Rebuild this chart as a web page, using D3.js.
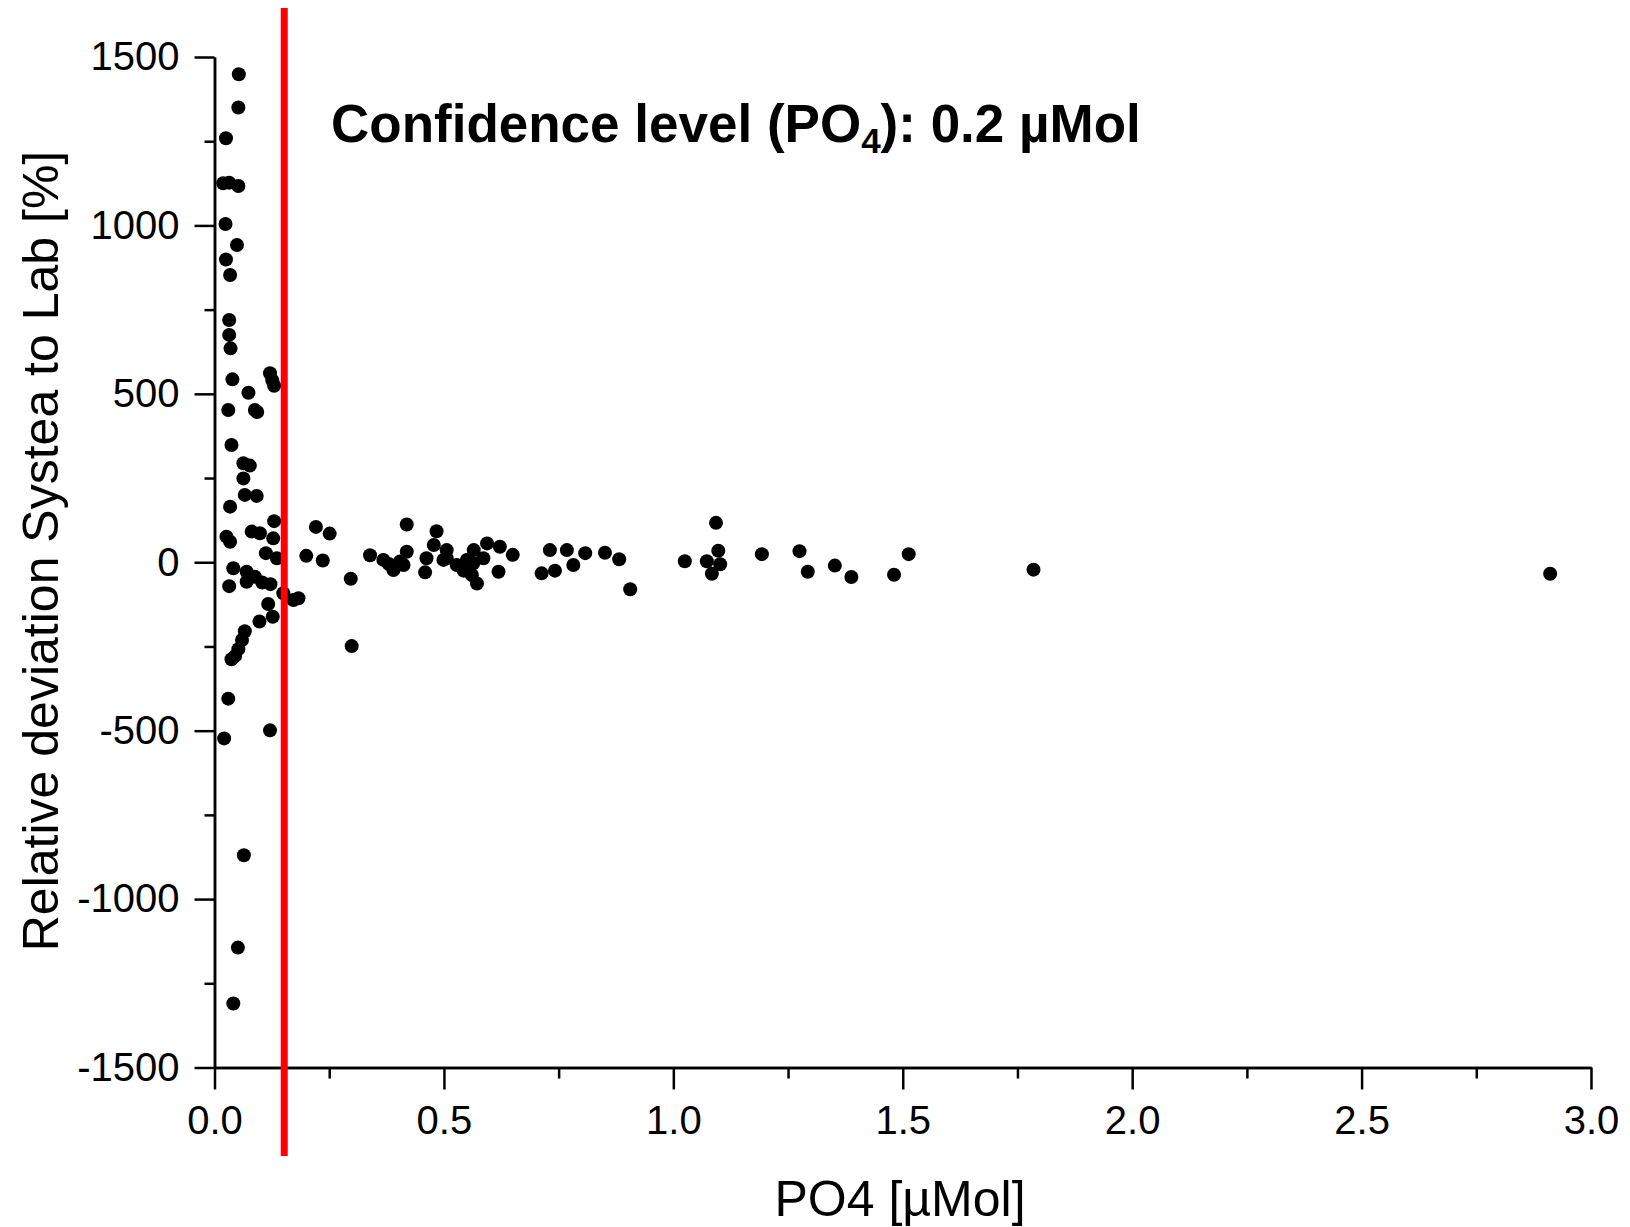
<!DOCTYPE html>
<html>
<head>
<meta charset="utf-8">
<script src="https://d3js.org/d3.v7.min.js"></script>
<style>
  body { margin: 0; background: #fff; }
  .axis text { font-family: "Liberation Sans", Arial, sans-serif; font-size: 40px; fill: #000; }
  .axis path, .axis line { stroke: #000; stroke-width: 2.5; }
</style>
</head>
<body>
<div class="canva"></div>
<script>
// PO4 concentration [µMol] and relative deviation [%]
const po4 = [
  0.053, 0.052, 0.025, 0.019, 0.032, 0.052, 0.024, 0.049, 0.025, 0.034,
  0.032, 0.032, 0.035, 0.039, 0.121, 0.126, 0.130, 0.074, 0.030, 0.088,
  0.093, 0.037, 0.063, 0.077, 0.063, 0.066, 0.092, 0.034, 0.130, 0.026,
  0.034, 0.081, 0.099, 0.128, 0.112, 0.136, 0.041, 0.070, 0.088, 0.104,
  0.122, 0.032, 0.070, 0.117, 0.127, 0.098, 0.066, 0.060, 0.052, 0.045,
  0.037, 0.030, 0.121, 0.021, 0.064, 0.051, 0.041, 0.150, 0.172, 0.183,
  0.200, 0.221, 0.251, 0.236, 0.297, 0.299, 0.339, 0.368, 0.380, 0.390,
  0.404, 0.419, 0.419, 0.412, 0.459, 0.462, 0.478, 0.484, 0.499, 0.506,
  0.506, 0.528, 0.543, 0.550, 0.564, 0.565, 0.572, 0.561, 0.586, 0.594,
  0.622, 0.619, 0.650, 0.713, 0.731, 0.742, 0.768, 0.782, 0.808, 0.851,
  0.882, 0.906, 1.025, 1.073, 1.084, 1.093, 1.098, 1.102, 1.193, 1.275,
  1.293, 1.352, 1.388, 1.481, 1.513, 1.785, 2.911
];
const deviation = [
  1449, 1350, 1259, 1125, 1127, 1117, 1004, 942, 899, 853,
  719, 675, 635, 543, 561, 540, 524, 503, 452, 452,
  446, 348, 294, 287, 249, 200, 197, 165, 122, 76,
  61, 91, 86, 71, 27, 12, -18, -28, -43, -60,
  -65, -71, -58, -124, -162, -176, -205, -231, -258, -278,
  -288, -405, -499, -523, -870, -1144, -1310, -92, -112, -107,
  19, 105, 85, 5, -49, -249, 21, 7, -5, -23,
  2, 31, 112, -8, -30, 12, 51, 92, 7, 36,
  12, -8, -25, 7, -3, 36, -63, -38, 12, 56,
  46, -28, 22, -33, 36, -25, 36, -8, 27, 28,
  9, -80, 3, 3, -34, 117, 34, -6, 24, 33,
  -28, -10, -44, -37, 24, -22, -34
];

// tick values
const xTicks = [0, 0.5, 1.0, 1.5, 2.0, 2.5, 3.0];
const xMinorTicks = [0.25, 0.75, 1.25, 1.75, 2.25, 2.75];
const yTicks = [-1500, -1000, -500, 0, 500, 1000, 1500];
const yMinorTicks = [-1250, -750, -250, 250, 750, 1250];

// red detection limit line
const confidenceLine = 0.152;

const svg = d3.select(".canva").append("svg")
    .attr("width", 1630)
    .attr("height", 1227);

const margin = {top: 57, right: 39, bottom: 159.5, left: 214.5};
const graphWidth = 1630 - margin.left - margin.right;
const graphHeight = 1227 - margin.top - margin.bottom;

const graph = svg.append("g")
    .attr("transform", `translate(${margin.left}, ${margin.top})`);

const x = d3.scaleLinear().domain([0, 3]).range([0, graphWidth]);
const y = d3.scaleLinear().domain([-1500, 1500]).range([graphHeight, 0]);

// minor ticks first (no labels)
graph.append("g")
    .attr("class", "axis")
    .attr("transform", `translate(0, ${graphHeight})`)
    .call(d3.axisBottom(x).tickValues(xMinorTicks).tickSize(11).tickSizeOuter(0).tickFormat(""));

graph.append("g")
    .attr("class", "axis")
    .call(d3.axisLeft(y).tickValues(yMinorTicks).tickSize(10).tickSizeOuter(0).tickFormat(""));

// major axes
graph.append("g")
    .attr("class", "axis")
    .attr("transform", `translate(0, ${graphHeight})`)
    .call(d3.axisBottom(x).tickValues(xTicks).tickSize(22).tickSizeOuter(0).tickPadding(16).tickFormat(d => d.toFixed(1)));

graph.append("g")
    .attr("class", "axis")
    .call(d3.axisLeft(y).tickValues(yTicks).tickSize(20).tickSizeOuter(0).tickPadding(15).tickFormat(d => String(d)));

// points
graph.selectAll("circle")
    .data(po4)
    .enter()
    .append("circle")
    .attr("cx", d => x(d))
    .attr("cy", (d, i) => y(deviation[i]))
    .attr("r", 7)
    .attr("fill", "#000");

// red line
graph.append("line")
    .attr("x1", x(confidenceLine))
    .attr("x2", x(confidenceLine))
    .attr("y1", 8 - margin.top)
    .attr("y2", 1156 - margin.top)
    .attr("stroke", "#ff0000")
    .attr("stroke-width", 7);

// axis titles
svg.append("text")
    .attr("x", 900)
    .attr("y", 1216)
    .attr("text-anchor", "middle")
    .style("font-family", "'Liberation Sans', Arial, sans-serif")
    .style("font-size", "50px")
    .text("PO4 [µMol]");

svg.append("text")
    .attr("transform", "translate(58, 551) rotate(-90)")
    .attr("text-anchor", "middle")
    .style("font-family", "'Liberation Sans', Arial, sans-serif")
    .style("font-size", "50px")
    .text("Relative deviation Systea to Lab [%]");

// annotation
const title = svg.append("text")
    .attr("x", 331)
    .attr("y", 142)
    .style("font-family", "'Liberation Sans', Arial, sans-serif")
    .style("font-size", "53px")
    .style("font-weight", "bold");
title.append("tspan").text("Confidence level (PO");
title.append("tspan").attr("dy", 11).style("font-size", "35px").text("4");
title.append("tspan").attr("dy", -11).text("): 0.2 µMol");
</script>
</body>
</html>
